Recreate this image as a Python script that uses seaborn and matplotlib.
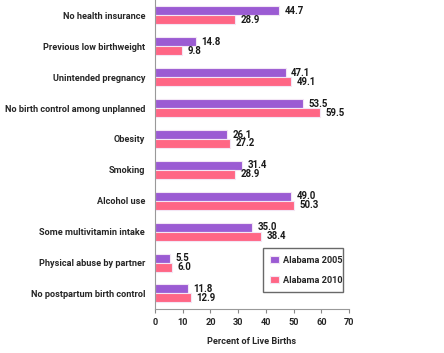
import pandas as pd
import seaborn as sns
import matplotlib.pyplot as plt

categories = ['No health insurance', 'Previous low birthweight', 'Unintended pregnancy',
              'No birth control among unplanned', 'Obesity', 'Smoking', 'Alcohol use',
              'Some multivitamin intake', 'Physical abuse by partner', 'No postpartum birth control']
al_2005 = [44.7, 14.8, 47.1, 53.5, 26.1, 31.4, 49.0, 35.0, 5.5, 11.8]
al_2010 = [28.9, 9.8, 49.1, 59.5, 27.2, 28.9, 50.3, 38.4, 6.0, 12.9]
series = ['Alabama 2005', 'Alabama 2010']

df = pd.DataFrame({
    'category': categories * 2,
    'value': al_2005 + al_2010,
    'year': [series[0]] * len(categories) + [series[1]] * len(categories),
})

sns.set_style('white')
plt.rcParams['font.family'] = ['Roboto', 'DejaVu Sans']
plt.rcParams['font.weight'] = 'bold'
fs = 6.6

fig = plt.figure(figsize=(4.44, 3.53), dpi=100)
ax = fig.add_axes([0.349, 0.125, 0.437, 0.875])

sns.barplot(data=df, y='category', x='value', hue='year', orient='h',
            palette=['#9B5BD3', '#FF6685'], saturation=1, width=0.58,
            edgecolor='#F3E6F5', linewidth=0.8, ax=ax)

for cont in ax.containers:
    ax.bar_label(cont, fmt='%.1f', padding=4, fontsize=fs + 0.3, fontweight='bold', color='#1a1a1a')

ax.set_xlim(0, 70)
ax.set_xticks(range(0, 71, 10))
ax.set_ylim(9.5, -0.5)
ax.set_xlabel('Percent of Live Births', fontsize=fs, fontweight='bold', labelpad=7)
ax.set_ylabel('')
ax.tick_params(axis='x', labelsize=fs, length=3, color='#888888', direction='out', bottom=True)
ax.tick_params(axis='y', labelsize=fs, length=0, pad=7)
for lab in ax.get_xticklabels() + ax.get_yticklabels():
    lab.set_fontweight('bold')
for s in ['top', 'right']:
    ax.spines[s].set_visible(False)
ax.spines['left'].set_color('#999999')
ax.spines['bottom'].set_color('#999999')

leg = ax.legend(loc='lower left', bbox_to_anchor=(0.557, 0.055, 0.41, 0.13), mode='expand',
                borderaxespad=0, fontsize=fs, frameon=True, fancybox=False,
                edgecolor='#444444', handlelength=0.9, handleheight=0.9, handletextpad=0.5,
                borderpad=0.8, labelspacing=1.2)
leg.get_frame().set_linewidth(1.0)
for t in leg.get_texts():
    t.set_fontweight('bold')

fig.savefig('out.png', dpi=100)
